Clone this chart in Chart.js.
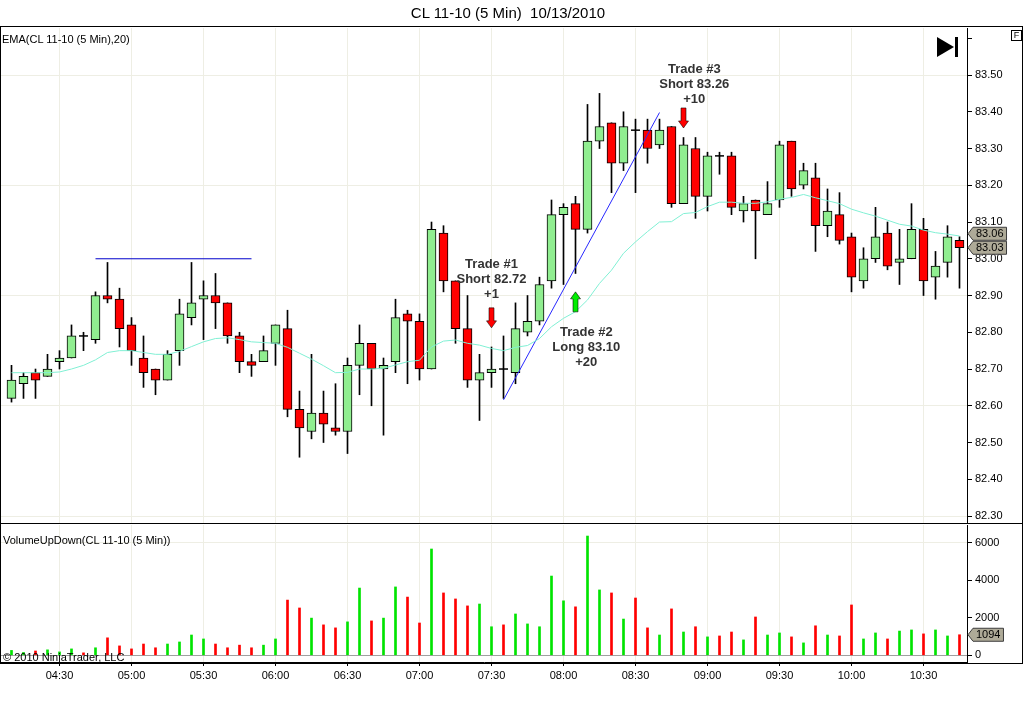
<!DOCTYPE html>
<html lang="en">
<head>
<meta charset="UTF-8">
<title>CL 11-10 (5 Min) 10/13/2010</title>
<script src="https://cdn.jsdelivr.net/npm/chart.js"></script>
<style>
    body { margin: 0; background: #fff; font-family: "Liberation Sans", Arial, sans-serif; }
    #pagina { position: relative; width: 1024px; height: 709px; overflow: hidden; background: #fff; }
    canvas { position: absolute; left: 0; }
    #graficoPreco { top: 27px; }
    #graficoVolume { top: 524px; }
    .txt { position: absolute; white-space: pre; color: #000; z-index: 3; }
    #titulo { top: 4px; left: 0; width: 1016px; text-align: center; font-size: 15px; line-height: 18px; }
    #rotuloEma { top: 32px; left: 2px; font-size: 11px; line-height: 14px; }
    #rotuloVol { top: 533px; left: 3px; font-size: 11px; line-height: 14px; }
    #copyright { top: 650px; left: 3px; font-size: 11px; line-height: 14px; }
    #moldura { position: absolute; left: 0; top: 26px; width: 1023px; height: 638px; box-sizing: border-box;
               border: 1px solid #000; z-index: 2; pointer-events: none; }
    #separador { position: absolute; left: 0; top: 523px; width: 1023px; height: 1px; background: #000; z-index: 2; }
    #caixaF { position: absolute; left: 1011px; top: 30px; width: 11px; height: 11px; box-sizing: border-box;
              border: 1px solid #000; font-size: 9px; line-height: 9px; text-align: center; z-index: 3; }
    #play { position: absolute; left: 937px; top: 37px; width: 0; height: 0; z-index: 3;
            border-left: 17px solid #000; border-top: 10px solid transparent; border-bottom: 10px solid transparent; }
    #playBarra { position: absolute; left: 955px; top: 37px; width: 3px; height: 20px; background: #000; z-index: 3; }
</style>
</head>
<body>
<div id="pagina">
    <div id="titulo" class="txt">CL 11-10 (5 Min)  10/13/2010</div>
    <div id="rotuloEma" class="txt">EMA(CL 11-10 (5 Min),20)</div>
    <div id="rotuloVol" class="txt">VolumeUpDown(CL 11-10 (5 Min))</div>
    <div id="copyright" class="txt">© 2010 NinjaTrader, LLC</div>
    <div id="moldura"></div>
    <div id="separador"></div>
    <div id="caixaF">F</div>
    <div id="play"></div>
    <div id="playBarra"></div>
    <canvas id="graficoPreco" width="1024" height="497"></canvas>
    <canvas id="graficoVolume" width="1024" height="185"></canvas>
</div>

<script>
    // horarios das barras de 5 minutos
    var horarios = [
        '04:10', '04:15', '04:20', '04:25', '04:30', '04:35', '04:40', '04:45', '04:50', '04:55',
        '05:00', '05:05', '05:10', '05:15', '05:20', '05:25', '05:30', '05:35', '05:40', '05:45', '05:50', '05:55',
        '06:00', '06:05', '06:10', '06:15', '06:20', '06:25', '06:30', '06:35', '06:40', '06:45', '06:50', '06:55',
        '07:00', '07:05', '07:10', '07:15', '07:20', '07:25', '07:30', '07:35', '07:40', '07:45', '07:50', '07:55',
        '08:00', '08:05', '08:10', '08:15', '08:20', '08:25', '08:30', '08:35', '08:40', '08:45', '08:50', '08:55',
        '09:00', '09:05', '09:10', '09:15', '09:20', '09:25', '09:30', '09:35', '09:40', '09:45', '09:50', '09:55',
        '10:00', '10:05', '10:10', '10:15', '10:20', '10:25', '10:30', '10:35', '10:40', '10:45'
    ];
    var rotulosEixoX = ['04:30', '05:00', '05:30', '06:00', '06:30', '07:00', '07:30',
                        '08:00', '08:30', '09:00', '09:30', '10:00', '10:30'];
    var ticksPreco = [82.30, 82.40, 82.50, 82.60, 82.70, 82.80, 82.90, 83.00,
                      83.10, 83.20, 83.30, 83.40, 83.50, 83.60];
    var rotulosPreco = ['82.30', '82.40', '82.50', '82.60', '82.70', '82.80', '82.90', '83.00',
                        '83.10', '83.20', '83.30', '83.40', '83.50', ''];
    var ticksVolume = [0, 2000, 4000, 6000];

    var abertura = [
        82.62, 82.66, 82.69, 82.68, 82.72, 82.73, 82.79, 82.78, 82.90, 82.89,
        82.82, 82.73, 82.70, 82.67, 82.75, 82.84, 82.89, 82.90, 82.88, 82.79,
        82.72, 82.72, 82.77, 82.81, 82.59, 82.53, 82.58, 82.54, 82.53, 82.71,
        82.77, 82.70, 82.72, 82.85, 82.83, 82.70, 83.07, 82.94, 82.81, 82.67,
        82.69, 82.70, 82.69, 82.80, 82.83, 82.94, 83.12, 83.15, 83.08, 83.32,
        83.37, 83.26, 83.35, 83.35, 83.31, 83.36, 83.15, 83.30, 83.17, 83.28,
        83.28, 83.13, 83.16, 83.12, 83.16, 83.32, 83.20, 83.22, 83.09, 83.12,
        83.06, 82.94, 83.00, 83.07, 82.99, 83.00, 83.08, 82.95, 82.99, 83.05
    ];
    var maxima = [
        82.71, 82.69, 82.70, 82.74, 82.75, 82.82, 82.80, 82.91, 82.99, 82.92,
        82.84, 82.79, 82.70, 82.75, 82.89, 82.99, 82.94, 82.96, 82.88, 82.80,
        82.74, 82.79, 82.82, 82.86, 82.64, 82.74, 82.64, 82.66, 82.73, 82.82,
        82.77, 82.73, 82.89, 82.86, 82.85, 83.10, 83.09, 82.94, 82.90, 82.74,
        82.76, 82.79, 82.88, 82.90, 82.95, 83.16, 83.15, 83.17, 83.42, 83.45,
        83.37, 83.40, 83.38, 83.38, 83.38, 83.36, 83.33, 83.33, 83.29, 83.29,
        83.29, 83.17, 83.16, 83.21, 83.32, 83.32, 83.26, 83.26, 83.19, 83.18,
        83.07, 83.03, 83.14, 83.10, 83.08, 83.15, 83.11, 83.02, 83.09, 83.06
    ];
    var minima = [
        82.61, 82.62, 82.62, 82.68, 82.70, 82.73, 82.75, 82.77, 82.88, 82.76,
        82.71, 82.65, 82.63, 82.67, 82.71, 82.82, 82.78, 82.81, 82.77, 82.69,
        82.68, 82.72, 82.71, 82.57, 82.46, 82.51, 82.50, 82.52, 82.47, 82.63,
        82.60, 82.52, 82.69, 82.66, 82.67, 82.70, 82.91, 82.77, 82.65, 82.56,
        82.65, 82.62, 82.66, 82.79, 82.82, 82.92, 82.93, 82.96, 83.07, 83.30,
        83.18, 83.24, 83.18, 83.26, 83.30, 83.14, 83.15, 83.11, 83.13, 83.23,
        83.12, 83.10, 83.00, 83.12, 83.14, 83.17, 83.19, 83.02, 83.06, 83.04,
        82.91, 82.92, 82.99, 82.97, 82.93, 83.00, 82.90, 82.89, 82.95, 82.92
    ];
    var fechamento = [
        82.67, 82.68, 82.67, 82.70, 82.73, 82.79, 82.79, 82.90, 82.89, 82.81,
        82.75, 82.69, 82.67, 82.74, 82.85, 82.88, 82.90, 82.88, 82.79, 82.72,
        82.71, 82.75, 82.82, 82.59, 82.54, 82.58, 82.55, 82.53, 82.71, 82.77,
        82.70, 82.71, 82.84, 82.83, 82.70, 83.08, 82.94, 82.81, 82.67, 82.69,
        82.70, 82.70, 82.81, 82.83, 82.93, 83.12, 83.14, 83.08, 83.32, 83.36,
        83.26, 83.36, 83.35, 83.30, 83.35, 83.15, 83.31, 83.17, 83.28, 83.28,
        83.14, 83.15, 83.13, 83.15, 83.31, 83.19, 83.24, 83.09, 83.13, 83.05,
        82.95, 83.00, 83.06, 82.98, 83.00, 83.08, 82.94, 82.98, 83.06, 83.03
    ];
    // EMA(20)
    var ema20 = [
        82.690, 82.690, 82.690, 82.690, 82.692, 82.700, 82.710, 82.725, 82.745, 82.750,
        82.750, 82.745, 82.740, 82.740, 82.748, 82.761, 82.774, 82.783, 82.785, 82.780,
        82.774, 82.772, 82.770, 82.759, 82.743, 82.727, 82.709, 82.690, 82.691, 82.700,
        82.700, 82.702, 82.711, 82.720, 82.724, 82.760, 82.776, 82.779, 82.770, 82.765,
        82.756, 82.750, 82.759, 82.764, 82.783, 82.815, 82.838, 82.856, 82.888, 82.933,
        82.969, 83.015, 83.046, 83.074, 83.100, 83.101, 83.123, 83.126, 83.142, 83.154,
        83.154, 83.151, 83.151, 83.155, 83.162, 83.167, 83.175, 83.166, 83.158, 83.150,
        83.135, 83.125, 83.116, 83.105, 83.094, 83.089, 83.078, 83.071, 83.067, 83.062
    ];
    var volume = [
        260, 150, 230, 290, 180, 340, 130, 400, 930, 500,
        340, 600, 400, 600, 710, 1080, 870, 600, 400, 540,
        400, 540, 870, 2940, 2520, 1980, 1620, 1460, 1780, 3580,
        1830, 1980, 3640, 3100, 1720, 5660, 3320, 3000, 2630, 2730,
        1520, 1620, 2200, 1670, 1520, 4220, 2900, 2580, 6350, 3480,
        3320, 1930, 3050, 1460, 1080, 2470, 1240, 1520, 980, 1030,
        1240, 820, 2040, 1080, 1190, 980, 660, 1570, 1080, 1030,
        2680, 870, 1190, 870, 1290, 1350, 1140, 1350, 1030, 1094
    ];

    // operacoes marcadas no grafico
    var tradeBarra = [40, 47, 56];
    var tradeSeta = [82.812, 82.91, 83.356];
    var tradeDirecao = ['down', 'up', 'down'];
    var tradeTextoBarra = [40, 47.9, 56.9];
    var tradeTextoPreco = [82.986, 82.799, 83.516];
    var tradeTexto = [
        ['Trade #1', 'Short 82.72', '+1'],
        ['Trade #2', 'Long 83.10', '+20'],
        ['Trade #3', 'Short 83.26', '+10']
    ];

    // linhas desenhadas a mao
    var linhaNivelBarras = [7, 20];
    var linhaNivelPreco = [83.00, 83.00];
    var linhaTendBarras = [41, 54];
    var linhaTendPreco = [82.616, 83.398];

    var corGrade = '#eeeee4';
    var fonte = '"Liberation Sans", Arial, sans-serif';
    var transparente = 'rgba(0,0,0,0)';

    Chart.defaults.font.family = fonte;
    Chart.defaults.font.size = 11;
    Chart.defaults.color = '#000';

    function ajustarEixo(tamanho, prop) {
        return function (scale) {
            scale[prop] = tamanho;
            scale.paddingTop = 0;
            scale.paddingBottom = 0;
            scale.paddingLeft = 0;
            scale.paddingRight = 0;
        };
    }

    function ticksFixos(lista) {
        return function (axis) {
            axis.ticks = lista.map(function (v) { return { value: v }; });
        };
    }

    function ticksHorario(axis) {
        axis.ticks = rotulosEixoX.map(function (t) { return { value: horarios.indexOf(t) }; });
    }

    function desenharSeta(ctx, x, yPonta, direcao) {
        var s = direcao === 'down' ? -1 : 1;
        ctx.beginPath();
        ctx.moveTo(x, yPonta);
        ctx.lineTo(x + 5, yPonta + s * 7);
        ctx.lineTo(x + 2.5, yPonta + s * 7);
        ctx.lineTo(x + 2.5, yPonta + s * 20);
        ctx.lineTo(x - 2.5, yPonta + s * 20);
        ctx.lineTo(x - 2.5, yPonta + s * 7);
        ctx.lineTo(x - 5, yPonta + s * 7);
        ctx.closePath();
        ctx.fillStyle = direcao === 'down' ? '#ff0000' : '#00ee00';
        ctx.fill();
        ctx.lineWidth = 1;
        ctx.strokeStyle = 'rgba(0,0,0,0.55)';
        ctx.stroke();
    }

    function caixaValor(ctx, esquerda, cy, texto) {
        ctx.font = '11px ' + fonte;
        var largura = ctx.measureText(texto).width;
        var direita = esquerda + 9 + largura + 3;
        ctx.beginPath();
        ctx.moveTo(esquerda + 1, cy);
        ctx.lineTo(esquerda + 6, cy - 6.5);
        ctx.lineTo(direita, cy - 6.5);
        ctx.lineTo(direita, cy + 6.5);
        ctx.lineTo(esquerda + 6, cy + 6.5);
        ctx.closePath();
        ctx.fillStyle = '#aeaa98';
        ctx.fill();
        ctx.strokeStyle = '#3c3c3c';
        ctx.lineWidth = 1;
        ctx.stroke();
        ctx.fillStyle = '#000';
        ctx.textAlign = 'left';
        ctx.textBaseline = 'middle';
        ctx.fillText(texto, esquerda + 9, cy + 0.5);
    }

    var marcasPreco = {
        id: 'marcasPreco',
        afterDatasetsDraw: function (chart) {
            var ctx = chart.ctx;
            var x = chart.scales.x;
            var y = chart.scales.y;
            ctx.save();
            for (var k = 0; k < tradeBarra.length; k++) {
                desenharSeta(ctx, x.getPixelForValue(tradeBarra[k]), y.getPixelForValue(tradeSeta[k]), tradeDirecao[k]);
            }
            ctx.font = 'bold 13px ' + fonte;
            ctx.fillStyle = '#333';
            ctx.textAlign = 'center';
            ctx.textBaseline = 'middle';
            for (var k2 = 0; k2 < tradeTexto.length; k2++) {
                var px = x.getPixelForValue(tradeTextoBarra[k2]);
                var py = y.getPixelForValue(tradeTextoPreco[k2]);
                for (var j = 0; j < tradeTexto[k2].length; j++) {
                    ctx.fillText(tradeTexto[k2][j], px, py + j * 15);
                }
            }
            ctx.restore();
        },
        afterDraw: function (chart) {
            var ctx = chart.ctx;
            var y = chart.scales.y;
            var direita = chart.chartArea.right;
            ctx.save();
            // rotulos do eixo de preco
            ctx.font = '11px ' + fonte;
            ctx.fillStyle = '#000';
            ctx.textAlign = 'left';
            ctx.textBaseline = 'middle';
            for (var t = 0; t < ticksPreco.length; t++) {
                ctx.fillText(rotulosPreco[t], direita + 8, y.getPixelForValue(ticksPreco[t]));
            }
            // caixas de valor no eixo da direita
            var n = fechamento.length - 1;
            var yEma = y.getPixelForValue(ema20[n]);
            var yFech = y.getPixelForValue(fechamento[n]);
            if (yEma <= yFech && yFech - yEma < 14) yEma = yFech - 14;
            if (yFech < yEma && yEma - yFech < 14) yFech = yEma - 14;
            caixaValor(ctx, direita, yEma, ema20[n].toFixed(2));
            caixaValor(ctx, direita, yFech, fechamento[n].toFixed(2));
            ctx.restore();
        }
    };

    var marcasVolume = {
        id: 'marcasVolume',
        afterDraw: function (chart) {
            var ctx = chart.ctx;
            var n = volume.length - 1;
            ctx.save();
            caixaValor(ctx, chart.chartArea.right, chart.scales.y.getPixelForValue(volume[n]), String(volume[n]));
            ctx.restore();
        }
    };

    var corpos = [];
    var corCorpos = [];
    var dojis = [];
    var pavios = [];
    var coresVolume = [];
    for (var i = 0; i < abertura.length; i++) {
        pavios.push({ x: i, y: [minima[i], maxima[i]] });
        if (abertura[i] === fechamento[i]) {
            dojis.push({ x: i, y: abertura[i] });
        } else {
            corpos.push({ x: i, y: [abertura[i], fechamento[i]] });
            corCorpos.push(fechamento[i] > abertura[i] ? '#90ee90' : '#ff0000');
        }
        coresVolume.push(fechamento[i] > abertura[i] ? '#00e400' : '#ff0000');
    }

    var eixoX = {
        type: 'linear',
        min: -0.875,
        max: 79.625,
        offset: false,
        bounds: 'data',
        afterBuildTicks: ticksHorario
    };

    new Chart(document.getElementById('graficoPreco'), {
        type: 'bar',
        data: {
            datasets: [
                {
                    type: 'line', label: 'EMA', order: 0,
                    data: ema20.map(function (v, i) { return { x: i, y: v }; }),
                    borderColor: '#80f0d4', borderWidth: 1, pointRadius: 0, tension: 0
                },
                {
                    type: 'line', label: 'nivel', order: 0,
                    data: linhaNivelBarras.map(function (b, i) { return { x: b, y: linhaNivelPreco[i] }; }),
                    borderColor: '#0000cc', borderWidth: 1, pointRadius: 0
                },
                {
                    type: 'line', label: 'tendencia', order: 0,
                    data: linhaTendBarras.map(function (b, i) { return { x: b, y: linhaTendPreco[i] }; }),
                    borderColor: '#2828ff', borderWidth: 1, pointRadius: 0
                },
                {
                    type: 'line', label: 'doji', order: 1, showLine: false,
                    data: dojis,
                    pointStyle: 'line', pointRadius: 4.5, pointBorderColor: '#000', pointBorderWidth: 1.5
                },
                {
                    label: 'corpo', order: 1, grouped: false,
                    data: corpos, backgroundColor: corCorpos,
                    borderColor: '#000', borderWidth: 1, borderSkipped: false, barThickness: 9
                },
                {
                    label: 'pavio', order: 2, grouped: false,
                    data: pavios, backgroundColor: '#000', borderWidth: 0, barThickness: 1
                }
            ]
        },
        options: {
            responsive: false,
            animation: false,
            devicePixelRatio: 1,
            layout: { autoPadding: false, padding: { left: 1, top: 1, right: 0, bottom: 1 } },
            plugins: { legend: { display: false }, tooltip: { enabled: false } },
            scales: {
                x: Object.assign({}, eixoX, {
                    ticks: { display: false },
                    grid: { color: corGrade, drawTicks: false, offset: false },
                    border: { display: false },
                    afterFit: ajustarEixo(0, 'height')
                }),
                y: {
                    type: 'linear',
                    position: 'right',
                    min: 82.281,
                    max: 83.628,
                    bounds: 'data',
                    afterBuildTicks: ticksFixos(ticksPreco),
                    ticks: { display: false },
                    grid: {
                        color: function (c) {
                            return c.tick && Math.round(c.tick.value * 100) % 30 === 10 ? corGrade : transparente;
                        },
                        tickColor: '#000',
                        tickLength: 5
                    },
                    border: { color: '#000' },
                    afterFit: ajustarEixo(57, 'width')
                }
            }
        },
        plugins: [marcasPreco]
    });

    new Chart(document.getElementById('graficoVolume'), {
        type: 'bar',
        data: {
            datasets: [{
                label: 'VolumeUpDown',
                data: volume.map(function (v, i) { return { x: i, y: v }; }),
                backgroundColor: coresVolume,
                borderWidth: 0,
                barThickness: 2
            }]
        },
        options: {
            responsive: false,
            animation: false,
            devicePixelRatio: 1,
            layout: { autoPadding: false, padding: { left: 1, top: 1, right: 0, bottom: 0 } },
            plugins: { legend: { display: false }, tooltip: { enabled: false } },
            scales: {
                x: Object.assign({}, eixoX, {
                    ticks: {
                        padding: 3,
                        color: '#000',
                        maxRotation: 0,
                        autoSkip: false,
                        callback: function (v) { return horarios[v]; }
                    },
                    grid: { color: corGrade, tickColor: '#000', tickLength: 4, offset: false },
                    border: { color: '#000' },
                    afterFit: ajustarEixo(47, 'height')
                }),
                y: {
                    type: 'linear',
                    position: 'right',
                    min: -357,
                    max: 6938,
                    bounds: 'data',
                    afterBuildTicks: ticksFixos(ticksVolume),
                    ticks: {
                        padding: 3,
                        color: '#000',
                        autoSkip: false,
                        callback: function (v) { return String(v); }
                    },
                    grid: {
                        color: function (c) {
                            if (!c.tick) return transparente;
                            if (c.tick.value === 6000) return corGrade;
                            if (c.tick.value === 0) return '#a0a0a0';
                            return transparente;
                        },
                        tickColor: '#000',
                        tickLength: 5
                    },
                    border: { color: '#000' },
                    afterFit: ajustarEixo(57, 'width')
                }
            }
        },
        plugins: [marcasVolume]
    });
</script>
</body>
</html>
